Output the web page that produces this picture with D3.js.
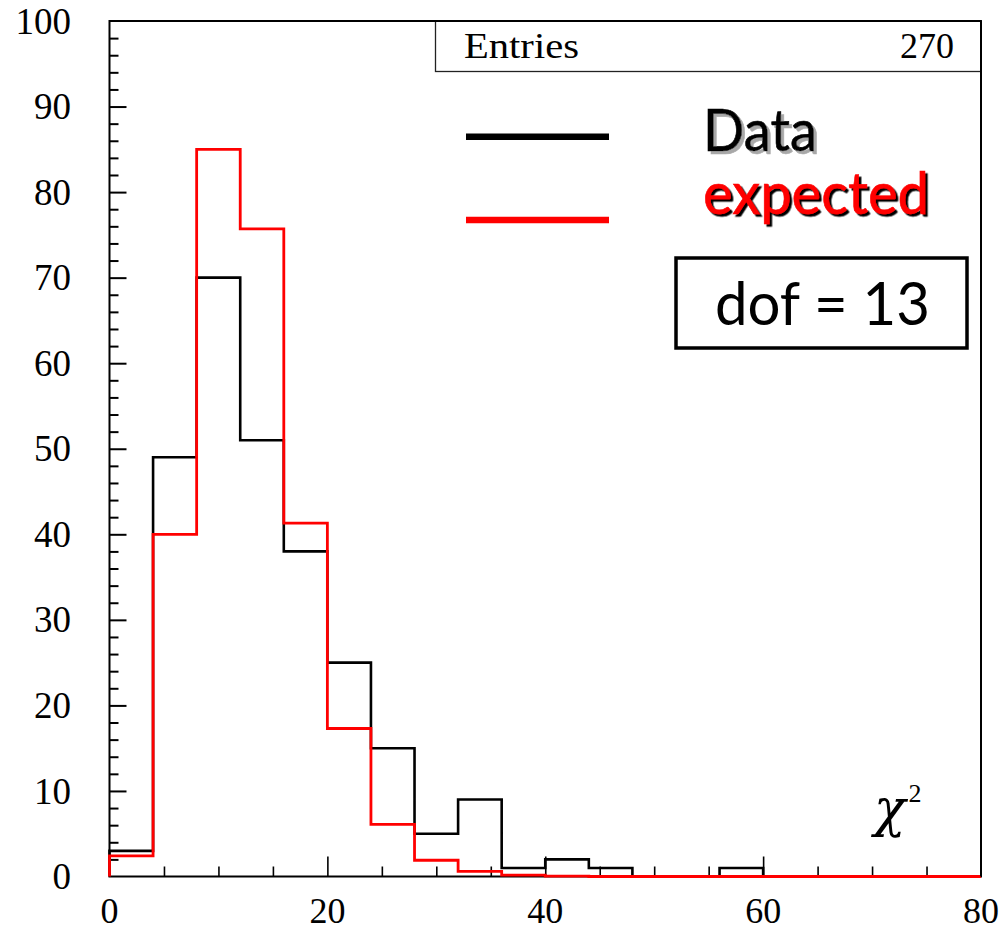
<!DOCTYPE html>
<html>
<head>
<meta charset="utf-8">
<script src="https://cdn.jsdelivr.net/npm/d3@7"></script>
<style>
  html, body { margin: 0; padding: 0; background: #fff; }
  svg { display: block; }
</style>
</head>
<body>
<svg id="chart" width="1005" height="930"></svg>
<script>
// Bin edges of the chi-square histogram (width 4, from 0 to 80)
const binEdges = [0, 4, 8, 12, 16, 20, 24, 28, 32, 36, 40, 44, 48, 52, 56, 60, 64, 68, 72, 76, 80];
// Observed counts per bin
const dataCounts = [3, 49, 70, 51, 38, 25, 15, 5, 9, 1, 2, 1, 0, 0, 1, 0, 0, 0, 0, 0];
// Expected counts per bin
const expectedCounts = [2.4, 40, 85, 75.7, 41.3, 17.3, 6.1, 1.9, 0.6, 0.15, 0.05, 0, 0, 0, 0, 0, 0, 0, 0, 0];
// Axis tick labels
const xTickValues = [0, 20, 40, 60, 80];
const yTickValues = [0, 10, 20, 30, 40, 50, 60, 70, 80, 90, 100];
const entries = 270;
const dof = 13;

const svg = d3.select("#chart");
const plotLeft = 109.5, plotRight = 981, plotTop = 21, plotBottom = 876.5;

const x = d3.scaleLinear().domain([0, 80]).range([plotLeft, plotRight]);
const y = d3.scaleLinear().domain([0, 100]).range([plotBottom, plotTop]);

const serif = "'Liberation Serif', 'Times New Roman', serif";
const hand = "Lato, 'Noto Sans', sans-serif";

// Drop-shadow filters for the legend labels
const defs = svg.append("defs");
function shadowFilter(id, off, color) {
  defs.append("filter").attr("id", id)
    .attr("x", "-10%").attr("y", "-10%").attr("width", "130%").attr("height", "130%")
    .append("feDropShadow")
    .attr("dx", off).attr("dy", off).attr("stdDeviation", 0.4)
    .attr("flood-color", color).attr("flood-opacity", 1);
}
shadowFilter("greyShadow", 3, "#a8a8a8");
shadowFilter("darkShadow", 2.5, "#000");

// Frame around the plot
svg.append("rect")
  .attr("x", plotLeft).attr("y", plotTop)
  .attr("width", plotRight - plotLeft).attr("height", plotBottom - plotTop)
  .attr("fill", "none").attr("stroke", "#000").attr("stroke-width", 2);

// Y axis: ticks point inward, major every 10 and minor every 2
const yAxis = d3.axisRight(y)
  .tickValues(d3.range(0, 101, 2))
  .tickSize(0)
  .tickFormat("");
const yg = svg.append("g").attr("transform", `translate(${plotLeft},0)`).call(yAxis);
yg.select(".domain").remove();
yg.selectAll(".tick line")
  .attr("x2", d => (d % 10 === 0 ? 17 : 9))
  .attr("stroke", "#000").attr("stroke-width", 2);
yg.selectAll(".tick").filter(d => d === 0 || d === 100).select("line").remove();

// Y tick labels
svg.append("g").selectAll("text")
  .data(yTickValues)
  .join("text")
  .attr("x", 71)
  .attr("y", d => y(d))
  .attr("dy", "0.34em")
  .attr("text-anchor", "end")
  .attr("font-family", serif)
  .attr("font-size", 37)
  .text(d => d);

// X axis: ticks point inward, major every 20 and minor every 5
const xAxis = d3.axisTop(x)
  .tickValues(d3.range(0, 81, 5))
  .tickSize(0)
  .tickFormat("");
const xg = svg.append("g").attr("transform", `translate(0,${plotBottom})`).call(xAxis);
xg.select(".domain").remove();
xg.selectAll(".tick line")
  .attr("y2", d => (d % 20 === 0 ? -20 : -10))
  .attr("stroke", "#000").attr("stroke-width", 1.6);
xg.selectAll(".tick").filter(d => d === 0 || d === 80).select("line").remove();

// X tick labels
svg.append("g").selectAll("text")
  .data(xTickValues)
  .join("text")
  .attr("x", d => x(d))
  .attr("y", 923)
  .attr("text-anchor", "middle")
  .attr("font-family", serif)
  .attr("font-size", 36)
  .text(d => d);

// Histogram outlines as step paths
function stepPoints(counts) {
  const pts = [[binEdges[0], 0]];
  counts.forEach((v, i) => {
    pts.push([binEdges[i], v]);
    pts.push([binEdges[i + 1], v]);
  });
  pts.push([binEdges[binEdges.length - 1], 0]);
  return pts;
}
const line = d3.line().x(d => x(d[0])).y(d => y(d[1]));

svg.append("path")
  .attr("d", line(stepPoints(dataCounts)))
  .attr("fill", "none").attr("stroke", "#000").attr("stroke-width", 2.6);

svg.append("path")
  .attr("d", line(stepPoints(expectedCounts)))
  .attr("fill", "none").attr("stroke", "#ff0000").attr("stroke-width", 2.8);

// Statistics box
svg.append("rect")
  .attr("x", 435.5).attr("y", plotTop)
  .attr("width", plotRight - 435.5).attr("height", 71.5 - plotTop)
  .attr("fill", "#fff").attr("stroke", "#222").attr("stroke-width", 1.3);
svg.append("line")
  .attr("x1", plotLeft).attr("x2", plotRight).attr("y1", plotTop).attr("y2", plotTop)
  .attr("stroke", "#000").attr("stroke-width", 2);
svg.append("line")
  .attr("x1", plotRight).attr("x2", plotRight).attr("y1", plotTop).attr("y2", plotBottom)
  .attr("stroke", "#000").attr("stroke-width", 2);
svg.append("text")
  .attr("x", 464).attr("y", 58)
  .attr("font-family", serif).attr("font-size", 36)
  .attr("textLength", 115).attr("lengthAdjust", "spacingAndGlyphs")
  .text("Entries");
svg.append("text")
  .attr("x", 954).attr("y", 58)
  .attr("text-anchor", "end")
  .attr("font-family", serif).attr("font-size", 36)
  .text(entries);

// Legend
svg.append("line")
  .attr("x1", 466).attr("x2", 609).attr("y1", 136.7).attr("y2", 136.7)
  .attr("stroke", "#000").attr("stroke-width", 6.5);
svg.append("line")
  .attr("x1", 466).attr("x2", 609).attr("y1", 220).attr("y2", 220)
  .attr("stroke", "#ff0000").attr("stroke-width", 6.5);

svg.append("text")
  .attr("x", 703).attr("y", 151)
  .attr("font-family", hand).attr("font-size", 58)
  .attr("textLength", 114).attr("lengthAdjust", "spacingAndGlyphs")
  .attr("fill", "#000").attr("stroke", "#000").attr("stroke-width", 0.6)
  .attr("filter", "url(#greyShadow)")
  .text("Data");
svg.append("text")
  .attr("x", 703).attr("y", 214)
  .attr("font-family", hand).attr("font-size", 58)
  .attr("textLength", 226).attr("lengthAdjust", "spacingAndGlyphs")
  .attr("fill", "#ff0000").attr("stroke", "#ff0000").attr("stroke-width", 0.6)
  .attr("filter", "url(#darkShadow)")
  .text("expected");

// Degrees-of-freedom box
svg.append("rect")
  .attr("x", 676).attr("y", 258)
  .attr("width", 291).attr("height", 90)
  .attr("fill", "#fff").attr("stroke", "#000").attr("stroke-width", 3.5);
svg.append("text")
  .attr("x", 715).attr("y", 325)
  .attr("font-family", hand).attr("font-size", 60)
  .attr("textLength", 215).attr("lengthAdjust", "spacingAndGlyphs")
  .text(`dof = ${dof}`);

// Axis title
const chi = svg.append("text")
  .attr("x", 874).attr("y", 826)
  .attr("font-family", "'DejaVu Serif', serif").attr("font-size", 52);
chi.append("tspan").attr("font-style", "italic").text("χ");
chi.append("tspan").attr("font-family", serif).attr("font-size", 26)
  .attr("dy", -24).attr("dx", 3).text("2");
</script>
</body>
</html>
